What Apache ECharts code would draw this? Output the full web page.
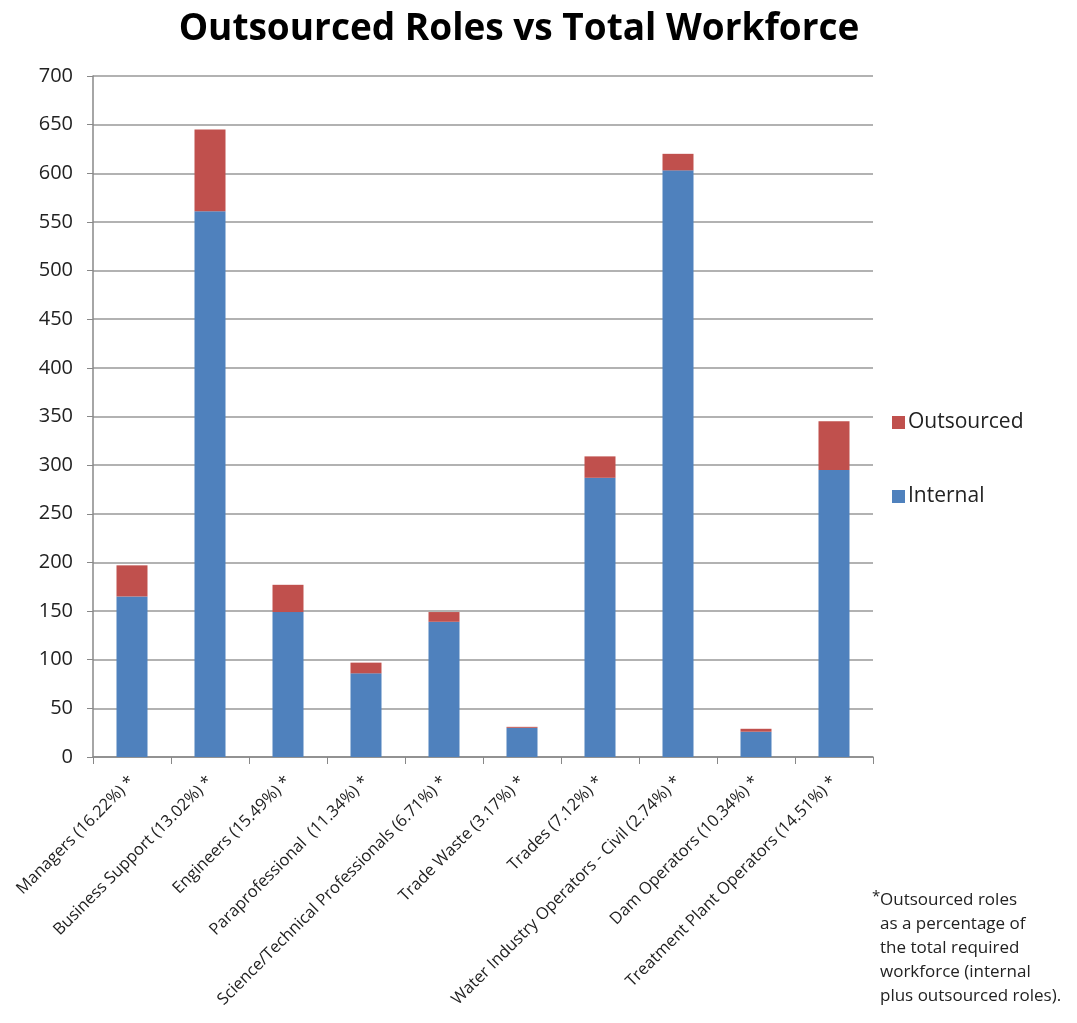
<!DOCTYPE html>
<html>
<head>
<meta charset="utf-8">
<script src="https://cdn.jsdelivr.net/npm/echarts@6/dist/echarts.min.js"></script>
<style>
  html,body{margin:0;padding:0;background:#fff;}
  #main{width:1077px;height:1023px;}
</style>
</head>
<body>
<div id="main"></div>
<script>
// roles, with outsourced share in brackets
const categories = [
  'Managers (16.22%) *',
  'Business Support (13.02%) *',
  'Engineers (15.49%) *',
  'Paraprofessional  (11.34%) *',
  'Science/Technical Professionals (6.71%) *',
  'Trade Waste (3.17%) *',
  'Trades (7.12%) *',
  'Water Industry Operators - Civil (2.74%) *',
  'Dam Operators (10.34%) *',
  'Treatment Plant Operators (14.51%) *'
];
const internal = [165, 561, 149, 86, 139, 30, 287, 603, 26, 295];
const outsourced = [32, 84, 28, 11, 10, 1, 22, 17, 3, 50];
const yTicks = [0, 50, 100, 150, 200, 250, 300, 350, 400, 450, 500, 550, 600, 650, 700];
const footnote = [
  'Outsourced roles',
  'as a percentage of',
  'the total required',
  'workforce (internal',
  'plus outsourced roles).'
];

const font = '"Open Sans", "Liberation Sans", sans-serif';
const chart = echarts.init(document.getElementById('main'));

chart.setOption({
  animation: false,
  title: {
    text: 'Outsourced Roles vs Total Workforce',
    left: 514,
    textAlign: 'center',
    top: 6,
    textStyle: { fontFamily: font, fontSize: 37, fontWeight: 'bold', color: '#000' }
  },
  legend: {
    orient: 'vertical',
    left: 887,
    top: 407,
    itemGap: 53,
    itemWidth: 13,
    itemHeight: 13,
    icon: 'rect',
    data: ['Outsourced', 'Internal'],
    textStyle: { fontFamily: font, fontSize: 21, color: '#222', padding: [0, 0, 0, -2] }
  },
  grid: { left: 93, right: 204, top: 76, bottom: 266 },
  xAxis: {
    type: 'category',
    data: categories,
    axisLine: { lineStyle: { color: '#888', width: 1.5 } },
    axisTick: { show: true, length: 7, lineStyle: { color: '#888' } },
    axisLabel: {
      interval: 0,
      rotate: 45,
      margin: 22,
      fontFamily: font,
      fontSize: 16.5,
      color: '#222'
    }
  },
  yAxis: {
    type: 'value',
    min: 0,
    max: 700,
    interval: 50,
    axisLine: { show: true, lineStyle: { color: '#888', width: 1.5 } },
    axisTick: { show: true, length: 6, lineStyle: { color: '#888' } },
    splitLine: { lineStyle: { color: '#999', width: 1.5 } },
    axisLabel: {
      margin: 20,
      fontFamily: font,
      fontSize: 20,
      color: '#222',
      formatter: v => yTicks.includes(v) ? String(v) : ''
    }
  },
  series: [
    {
      name: 'Internal',
      type: 'bar',
      stack: 'total',
      data: internal,
      barWidth: 31,
      itemStyle: { color: '#4F81BD' }
    },
    {
      name: 'Outsourced',
      type: 'bar',
      stack: 'total',
      data: outsourced,
      barWidth: 31,
      itemStyle: { color: '#C0504D' }
    }
  ],
  graphic: [
    {
      type: 'text',
      left: 872,
      top: 889,
      style: { text: '*', font: '15px ' + font, fill: '#222' }
    },
    {
      type: 'text',
      left: 880,
      top: 888,
      style: {
        text: footnote.join('\n'),
        font: '17px ' + font,
        lineHeight: 24,
        fill: '#222'
      }
    }
  ]
});
</script>
</body>
</html>
